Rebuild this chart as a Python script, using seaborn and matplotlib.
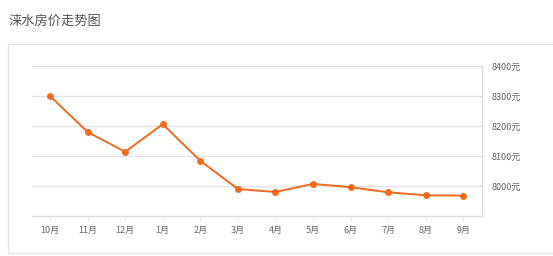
import matplotlib
matplotlib.use("Agg")
import matplotlib.pyplot as plt
import seaborn as sns
import pandas as pd
from matplotlib.patches import Rectangle

months = ["10月", "11月", "12月", "1月", "2月", "3月", "4月", "5月", "6月", "7月", "8月", "9月"]
prices = [8300, 8180, 8114, 8206, 8084, 7990, 7980, 8007, 7996, 7979, 7969, 7968]
y_ticks = [8000, 8100, 8200, 8300, 8400]
y_labels = [f"{v}元" for v in y_ticks]
title = "涞水房价走势图"

sns.set_theme(style="white")
plt.rcParams["font.family"] = ["Noto Sans CJK SC", "DejaVu Sans"]

df = pd.DataFrame({"month": months, "price": prices, "x": range(len(months))})

fig = plt.figure(figsize=(5.53, 2.56), dpi=100)
fig.patch.set_facecolor("white")

# outer frame
fig.patches.append(Rectangle((8 / 553, 1 - 253 / 256), 1.2, (253 - 44) / 256,
                             transform=fig.transFigure, fill=False,
                             edgecolor="#e3e3e3", linewidth=0.9))
fig.text(8 / 553, 1 - 21 / 256, title, fontsize=9.5, color="#555555",
         va="center", ha="left")

ax = fig.add_axes([32 / 553, 1 - 216 / 256, (482 - 32) / 553, (216 - 66) / 256])
sns.lineplot(data=df, x="x", y="price", ax=ax, color="#f26a1b", linewidth=1.4,
             marker="o", markersize=5, markeredgewidth=0)

ax.set_xlim(-0.48, 11.5)
ax.set_ylim(7900, 8400)
ax.set_xticks(range(len(months)))
ax.set_xticklabels(months)
ax.set_yticks(y_ticks)
ax.set_yticklabels(y_labels)
ax.yaxis.tick_right()
ax.grid(axis="y", color="#e3e3e3", linewidth=0.9)
ax.set_axisbelow(True)
ax.set_xlabel("")
ax.set_ylabel("")
for s in ["left", "top"]:
    ax.spines[s].set_visible(False)
for s in ["right", "bottom"]:
    ax.spines[s].set_visible(True)
    ax.spines[s].set_color("#dcdcdc")
    ax.spines[s].set_linewidth(0.9)
ax.tick_params(axis="y", length=0, pad=7, labelsize=6.5, labelcolor="#666666")
ax.tick_params(axis="x", length=3, width=0.6, color="#dcdcdc", pad=4,
               labelsize=6.5, labelcolor="#666666", bottom=True)

fig.savefig("out.png", dpi=100, facecolor="white")
